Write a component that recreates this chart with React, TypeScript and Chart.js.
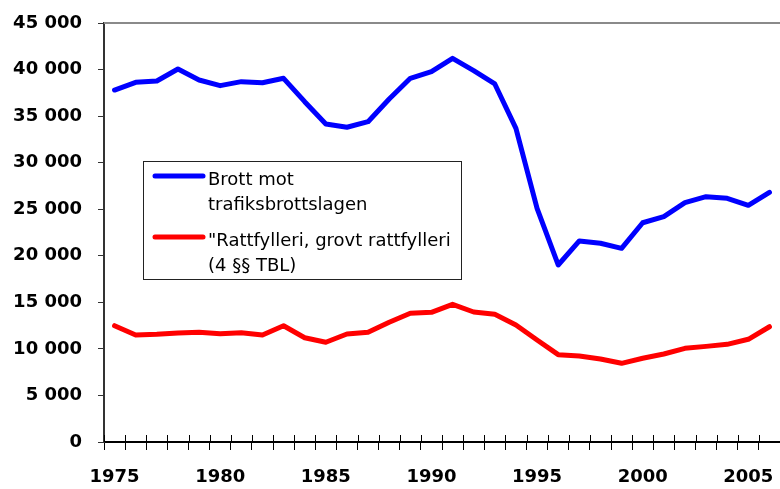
import React, { useEffect, useRef } from "react";
import { Chart, registerables } from "chart.js";

Chart.register(...registerables);

const years = [
  1975, 1976, 1977, 1978, 1979, 1980, 1981, 1982, 1983, 1984, 1985, 1986, 1987, 1988, 1989, 1990,
  1991, 1992, 1993, 1994, 1995, 1996, 1997, 1998, 1999, 2000, 2001, 2002, 2003, 2004, 2005, 2006,
];

const brottMot = [
  37800, 38630, 38770, 40060, 38880, 38270, 38700, 38590, 39060, 36550, 34150, 33800, 34400, 36840, 39060, 39770,
  41210, 39880, 38450, 33690, 25100, 19010, 21590, 21340, 20800, 23550, 24200, 25700, 26350, 26170, 25420, 26820,
];

const rattfylleri = [
  12490, 11490, 11570, 11710, 11780, 11630, 11740, 11490, 12490, 11200, 10710, 11600, 11780, 12860, 13820, 13930,
  14790, 13960, 13710, 12570, 10950, 9380, 9240, 8910, 8450, 8990, 9450, 10060, 10270, 10490, 11030, 12380,
];

const yMin = 0;
const yMax = 45000;
const yStep = 5000;

const seriesNames = [
  "Brott mot trafiksbrottslagen",
  "\"Rattfylleri, grovt rattfylleri (4 §§ TBL)",
];
const legendLines = [
  ["Brott mot", "trafiksbrottslagen"],
  ["\"Rattfylleri, grovt rattfylleri", "(4 §§ TBL)"],
];
const seriesColors = ["#0000FF", "#FF0000"];

const FONT = "'DejaVu Sans', 'Liberation Sans', Arial, sans-serif";

const formatThousands = (n: number) =>
  String(n).replace(/\B(?=(\d{3})+(?!\d))/g, " ");

const decorPlugin = {
  id: "decor",
  afterDraw(chart: any) {
    const { ctx, chartArea } = chart;
    const xs = chart.scales.x;
    ctx.save();
    // top plot border
    ctx.strokeStyle = "#8a8a8a";
    ctx.lineWidth = 2;
    ctx.beginPath();
    ctx.moveTo(chartArea.left, chartArea.top);
    ctx.lineTo(chart.width, chartArea.top);
    ctx.stroke();
    // inner half of x tick marks (crossing ticks)
    const n = years.length;
    const step = (xs.right - xs.left) / n;
    ctx.strokeStyle = "#000";
    ctx.lineWidth = 1;
    for (let i = 0; i <= n; i++) {
      const x = Math.round(xs.left + i * step) + 0.5;
      ctx.beginPath();
      ctx.moveTo(x, chartArea.bottom - 7);
      ctx.lineTo(x, chartArea.bottom);
      ctx.stroke();
    }
    // legend box
    const x0 = chartArea.left + 39;
    const y0 = chartArea.top + 138;
    const w = 318;
    const h = 118;
    ctx.fillStyle = "#fff";
    ctx.fillRect(x0, y0, w, h);
    ctx.strokeStyle = "#222";
    ctx.lineWidth = 1;
    ctx.strokeRect(x0 + 0.5, y0 + 0.5, w, h);
    ctx.font = `18px ${FONT}`;
    ctx.textBaseline = "alphabetic";
    ctx.textAlign = "left";
    chart.data.datasets.forEach((ds: any, i: number) => {
      const base = y0 + 24 + i * 61;
      ctx.strokeStyle = ds.borderColor;
      ctx.lineWidth = 5;
      ctx.lineCap = "round";
      ctx.beginPath();
      ctx.moveTo(x0 + 12, base - 9);
      ctx.lineTo(x0 + 60, base - 9);
      ctx.stroke();
      ctx.fillStyle = "#000";
      legendLines[i].forEach((line, j) => {
        ctx.fillText(line, x0 + 65, base + j * 25);
      });
    });
    ctx.restore();
  },
};

export default function App() {
  const canvasRef = useRef<HTMLCanvasElement | null>(null);

  useEffect(() => {
    document.body.style.margin = "0";
    document.body.style.overflow = "hidden";
    const canvas = canvasRef.current;
    if (!canvas) return;
    const chart = new Chart(canvas, {
      type: "line",
      data: {
        labels: years.map(String),
        datasets: [
          {
            label: seriesNames[0],
            data: brottMot,
            borderColor: seriesColors[0],
            backgroundColor: seriesColors[0],
            borderWidth: 5,
            pointRadius: 0,
            tension: 0,
            borderJoinStyle: "round",
            borderCapStyle: "round",
          },
          {
            label: seriesNames[1],
            data: rattfylleri,
            borderColor: seriesColors[1],
            backgroundColor: seriesColors[1],
            borderWidth: 5,
            pointRadius: 0,
            tension: 0,
            borderJoinStyle: "round",
            borderCapStyle: "round",
          },
        ],
      },
      options: {
        animation: false,
        responsive: false,
        devicePixelRatio: 1,
        layout: { padding: { top: 23, left: 0, right: 0, bottom: 0 } },
        plugins: {
          legend: { display: false },
          tooltip: { enabled: false },
        },
        scales: {
          x: {
            type: "category",
            offset: true,
            grid: {
              offset: true,
              drawOnChartArea: false,
              drawTicks: true,
              tickLength: 8,
              tickColor: "#000",
              tickWidth: 1,
            },
            border: { display: true, color: "#000", width: 2 },
            ticks: {
              autoSkip: false,
              maxRotation: 0,
              minRotation: 0,
              padding: 17,
              color: "#000",
              font: { family: FONT, size: 18, weight: "bold" },
              callback: (_v: any, i: number) => (years[i] % 5 === 0 ? String(years[i]) : ""),
            },
            afterFit: (scale: any) => {
              scale.height = 47;
              scale.paddingRight = 0;
              scale.paddingLeft = 0;
            },
          },
          y: {
            min: yMin,
            max: yMax,
            grid: {
              drawOnChartArea: false,
              drawTicks: true,
              tickLength: 6,
              tickColor: "#333",
              tickWidth: 1,
            },
            border: { display: true, color: "#333", width: 2 },
            ticks: {
              stepSize: yStep,
              padding: 16,
              color: "#000",
              font: { family: FONT, size: 18, weight: "bold" },
              callback: (v: any) => formatThousands(Number(v)),
            },
            afterFit: (scale: any) => {
              scale.width = 104;
              scale.paddingTop = 0;
              scale.paddingBottom = 0;
            },
          },
        },
      },
      plugins: [decorPlugin],
    });
    return () => chart.destroy();
  }, []);

  return (
    <div style={{ width: 780, height: 489, position: "relative", background: "#fff" }}>
      <canvas ref={canvasRef} width={780} height={489} style={{ display: "block" }} />
    </div>
  );
}
